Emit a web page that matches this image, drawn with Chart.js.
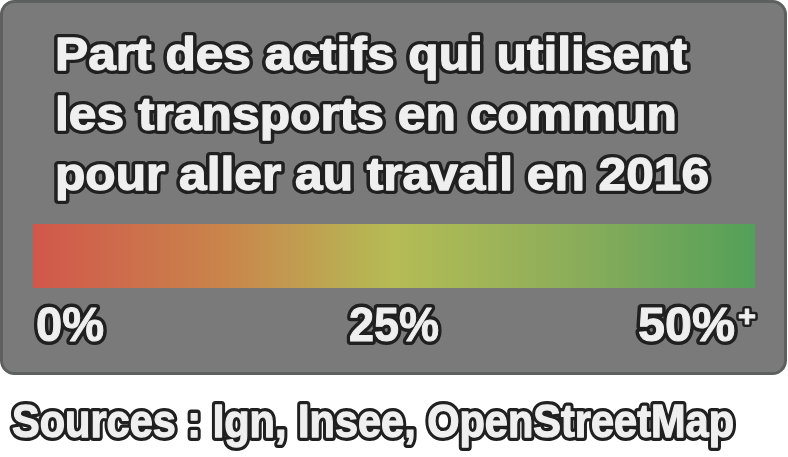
<!DOCTYPE html>
<html><head><meta charset="utf-8">
<script src="https://cdn.jsdelivr.net/npm/chart.js@4/dist/chart.umd.min.js"></script>
<style>html,body{margin:0;padding:0;background:#fff;}#wrap{width:788px;height:457px;}</style>
</head><body><div id="wrap"><canvas id="c" width="788" height="457"></canvas></div>
<script>
const titleLines = ["Part des actifs qui utilisent", "les transports en commun", "pour aller au travail en 2016"];
const categories = ["Part des actifs en transports en commun"];
const rangeValues = [50];
const tickValues = [0, 25, 50];
const tickLabels = ["0%", "25%", "50%"];
const sourceText = "Sources : Ign, Insee, OpenStreetMap";
const gradientStops = [[0, "#d1574b"], [0.27, "#c9864b"], [0.5, "#b5bc55"], [0.75, "#8bad5a"], [1, "#53a059"]];

function outlined(ctx, text, x, y, font, align, targetW, lw, bold) {
  ctx.save();
  ctx.font = font;
  ctx.textAlign = 'left';
  ctx.textBaseline = 'alphabetic';
  const w = ctx.measureText(text).width;
  const s = targetW ? targetW / w : 1;
  let x0 = x;
  if (align === 'center') x0 = x - w * s / 2;
  else if (align === 'right') x0 = x - w * s;
  ctx.translate(x0, y);
  ctx.scale(s, 1);
  ctx.lineJoin = 'round';
  ctx.lineWidth = lw || 7;
  ctx.strokeStyle = '#202020';
  ctx.strokeText(text, 0, 0);
  ctx.fillStyle = '#efefef';
  ctx.fillText(text, 0, 0);
  if (bold) {
    ctx.lineWidth = bold;
    ctx.strokeStyle = '#efefef';
    ctx.strokeText(text, 0, 0);
  }
  ctx.restore();
  return w * s;
}

const decor = {
  id: 'decor',
  beforeDraw(chart) {
    const ctx = chart.ctx;
    ctx.save();
    ctx.fillStyle = '#fff';
    ctx.fillRect(0, 0, chart.width, chart.height);
    ctx.beginPath();
    ctx.roundRect(1.5, 1.5, 784, 372, 13);
    ctx.fillStyle = '#7a7a7a';
    ctx.fill();
    ctx.lineWidth = 3;
    ctx.strokeStyle = '#5e605f';
    ctx.stroke();
    ctx.restore();
  },
  afterDraw(chart) {
    const ctx = chart.ctx;
    const xs = chart.scales.x;
    const tf = 'bold 47px "Liberation Sans"';
    outlined(ctx, titleLines[0], 55, 70, tf, 'left', 632, 8, 1.3);
    outlined(ctx, titleLines[1], 55, 130, tf, 'left', 622, 8, 1.3);
    outlined(ctx, titleLines[2], 55, 190, tf, 'left', 654, 8, 1.3);
    const ty = 341;
    const kf = 'bold 48px "Liberation Sans"';
    tickValues.forEach((v, i) => {
      const px = xs.getPixelForValue(v);
      if (i === 0) {
        outlined(ctx, tickLabels[i], px + 3, ty, kf, 'left', 68, 8, 1);
      } else if (i === tickValues.length - 1) {
        outlined(ctx, tickLabels[i], px - 20, ty, kf, 'right', 97, 8, 1);
        outlined(ctx, "+", px + 1, ty - 15, 'bold 30px "Liberation Sans"', 'right', 18, 6, 1);
      } else {
        outlined(ctx, tickLabels[i], px, ty, kf, 'center', 90, 8, 1);
      }
    });
    outlined(ctx, sourceText, 12, 437, 'bold 46px "Liberation Sans"', 'left', 722, 8, 1.3);
  }
};

new Chart(document.getElementById('c'), {
  type: 'bar',
  data: {
    labels: categories,
    datasets: [{
      data: rangeValues,
      borderWidth: 0,
      barPercentage: 1,
      categoryPercentage: 1,
      backgroundColor(ctx) {
        const ca = ctx.chart.chartArea;
        if (!ca) return '#b5bc55';
        const g = ctx.chart.ctx.createLinearGradient(ca.left, 0, ca.right, 0);
        gradientStops.forEach(s => g.addColorStop(s[0], s[1]));
        return g;
      }
    }]
  },
  options: {
    indexAxis: 'y',
    responsive: false,
    animation: false,
    layout: { padding: { left: 33, right: 33, top: 224, bottom: 169 } },
    scales: {
      x: { display: false, min: 0, max: 50 },
      y: { display: false }
    },
    plugins: { legend: { display: false }, tooltip: { enabled: false } }
  },
  plugins: [decor]
});
</script></body></html>
